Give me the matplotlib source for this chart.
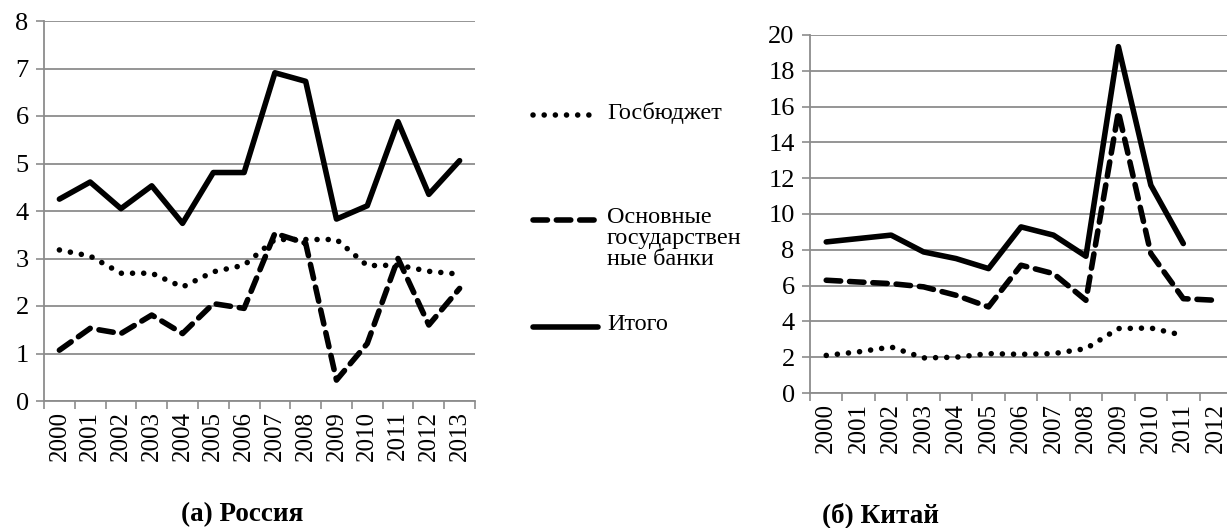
import numpy as np
import matplotlib
matplotlib.use('Agg')
import matplotlib.pyplot as plt
from matplotlib.lines import Line2D

plt.rcParams['font.family'] = ['Liberation Serif', 'DejaVu Serif']

# Russia
years_ru = [str(y) for y in range(2000, 2014)]
budget_ru = [3.18, 3.05, 2.69, 2.69, 2.4, 2.72, 2.86, 3.4, 3.4, 3.4, 2.85, 2.86, 2.73, 2.67]
banks_ru = [1.07, 1.53, 1.42, 1.81, 1.42, 2.05, 1.95, 3.53, 3.32, 0.44, 1.21, 3.0, 1.6, 2.37]
total_ru = [4.25, 4.61, 4.05, 4.53, 3.74, 4.81, 4.81, 6.91, 6.73, 3.83, 4.11, 5.88, 4.35, 5.06]

# China
years_cn = [str(y) for y in range(2000, 2013)]
budget_cn = [2.1, 2.3, 2.57, 1.96, 2.0, 2.2, 2.16, 2.2, 2.48, 3.6, 3.63, 3.22, np.nan]
banks_cn = [6.3, 6.2, 6.11, 5.93, 5.46, 4.81, 7.14, 6.67, 5.18, 15.71, 7.79, 5.27, 5.18]
total_cn = [8.44, 8.63, 8.82, 7.88, 7.51, 6.95, 9.28, 8.82, 7.64, 19.35, 11.61, 8.35, np.nan]

labels = ['Госбюджет', 'Основные\nгосударствен\nные банки', 'Итого']

LW = 4.0
dot = dict(color='black', lw=LW, linestyle=(0, (0.01, 2.0)), dash_capstyle='round')
dash = dict(color='black', lw=LW, linestyle=(0, (2.6, 1.6)), dash_capstyle='round')
solid = dict(color='black', lw=LW, solid_joinstyle='round', solid_capstyle='round')

W, H = 1227, 528
fig = plt.figure(figsize=(W / 100, H / 100), dpi=100)


def make_ax(rect_px, years, b, k, t, ymax, ystep):
    l, r, top, bot = rect_px
    ax = fig.add_axes([l / W, 1 - bot / H, (r - l) / W, (bot - top) / H])
    x = np.arange(len(years))
    ax.plot(x, b, **dot)
    ax.plot(x, k, **dash)
    ax.plot(x, t, **solid)
    ax.set_xlim(-0.5, len(years) - 0.5)
    ax.set_ylim(0, ymax)
    ax.set_yticks(np.arange(0, ymax + 0.1, ystep))
    ax.set_xticks(x)
    ax.set_xticklabels(years, rotation=90, fontsize=18)
    ax.set_xticks(np.arange(-0.5, len(years), 1), minor=True)
    ax.tick_params(axis='x', which='major', length=0, pad=7)
    ax.tick_params(axis='x', which='minor', length=6, color='#8c8c8c', width=1.2)
    ax.tick_params(axis='y', length=6, color='#8c8c8c', width=1.2, labelsize=19, pad=5)
    ax.grid(axis='y', color='#8c8c8c', lw=1.3)
    ax.set_axisbelow(True)
    for s in ['top', 'right']:
        ax.spines[s].set_visible(False)
    for s in ['left', 'bottom']:
        ax.spines[s].set_color('#8c8c8c')
        ax.spines[s].set_linewidth(1.3)
    return ax


make_ax((44, 475, 21, 401), years_ru, budget_ru, banks_ru, total_ru, 8, 1)
make_ax((810, 1232, 35, 393), years_cn, budget_cn, banks_cn, total_cn, 20, 2)

# legend drawn by hand
styles = [dot, dash, solid]
ys = [115, 220, 327]
for st, y, lab in zip(styles, ys, labels):
    fig.add_artist(Line2D([533 / W, 598 / W], [1 - y / H, 1 - y / H],
                          transform=fig.transFigure, **st))
    fig.text(607 / W, 1 - (y - 13) / H, lab, fontsize=17.5, va='top', ha='left',
             linespacing=1.0)

fig.text(242 / W, 1 - 515 / H, '(а) Россия', fontsize=19.5, fontweight='bold',
         ha='center', va='center')
fig.text(880 / W, 1 - 515 / H, '(б) Китай', fontsize=19.5, fontweight='bold',
         ha='center', va='center')

fig.savefig('out.png', dpi=100)
